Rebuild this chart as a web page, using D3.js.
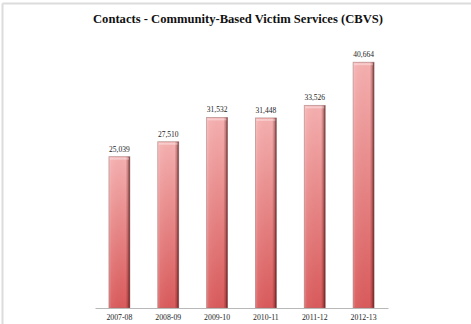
<!DOCTYPE html>
<html>
<head>
<meta charset="utf-8">
<script src="https://cdn.jsdelivr.net/npm/d3@7"></script>
<style>
  html, body { margin: 0; padding: 0; background: #fff; }
  svg { display: block; }
</style>
</head>
<body>
<svg id="chart" width="471" height="324"></svg>
<script>
// Fiscal years and the number of contacts recorded in each
const years = ["2007-08", "2008-09", "2009-10", "2010-11", "2011-12", "2012-13"];
const contacts = [25039, 27510, 31532, 31448, 33526, 40664];
const chartTitle = "Contacts - Community-Based Victim Services (CBVS)";

const svg = d3.select("#chart");
const W = 471, H = 324;
const margin = { left: 95, right: 83, top: 36, bottom: 16 };
const baseY = H - margin.bottom;

const data = years.map((y, i) => ({ year: y, value: contacts[i] }));

const x = d3.scaleBand()
  .domain(years)
  .range([margin.left, W - margin.right])
  .paddingInner(0.57)
  .paddingOuter(0.285);

const y = d3.scaleLinear()
  .domain([0, 45000])
  .range([baseY, margin.top]);

// Frame: light gray lines along the top and left edges
svg.append("line").attr("x1", 2.5).attr("x2", W).attr("y1", 3.5).attr("y2", 3.5)
  .attr("stroke", "#dcdcdc").attr("stroke-width", 2);
svg.append("line").attr("x1", 2.5).attr("x2", 2.5).attr("y1", 3.5).attr("y2", H)
  .attr("stroke", "#dcdcdc").attr("stroke-width", 2);

// Title
svg.append("text")
  .attr("x", 238).attr("y", 23)
  .attr("text-anchor", "middle")
  .attr("font-family", "'Liberation Serif', 'Times New Roman', serif")
  .attr("font-weight", "bold")
  .attr("font-size", 12.6)
  .attr("fill", "#111")
  .text(chartTitle);

// Gradients for the glossy bars
const defs = svg.append("defs");
const vGrad = defs.append("linearGradient").attr("id", "barFill")
  .attr("x1", 0).attr("y1", 0).attr("x2", 0).attr("y2", 1);
vGrad.append("stop").attr("offset", "0%").attr("stop-color", "#f6b0b0");
vGrad.append("stop").attr("offset", "100%").attr("stop-color", "#da5a5b");

const hGrad = defs.append("linearGradient").attr("id", "barShade")
  .attr("x1", 0).attr("y1", 0).attr("x2", 1).attr("y2", 0);
hGrad.append("stop").attr("offset", "0%").attr("stop-color", "#fff").attr("stop-opacity", 0.25);
hGrad.append("stop").attr("offset", "12%").attr("stop-color", "#fff").attr("stop-opacity", 0.05);
hGrad.append("stop").attr("offset", "80%").attr("stop-color", "#000").attr("stop-opacity", 0.0);
hGrad.append("stop").attr("offset", "90%").attr("stop-color", "#400").attr("stop-opacity", 0.25);
hGrad.append("stop").attr("offset", "100%").attr("stop-color", "#300").attr("stop-opacity", 0.75);

const bars = svg.append("g").selectAll("g").data(data).join("g");

bars.append("rect")
  .attr("x", d => x(d.year))
  .attr("y", d => y(d.value))
  .attr("width", x.bandwidth())
  .attr("height", d => baseY - y(d.value))
  .attr("fill", "url(#barFill)");

bars.append("rect")
  .attr("x", d => x(d.year))
  .attr("y", d => y(d.value))
  .attr("width", x.bandwidth())
  .attr("height", d => baseY - y(d.value))
  .attr("fill", "url(#barShade)")
  .attr("stroke", "#9a7070")
  .attr("stroke-opacity", 0.6)
  .attr("stroke-width", 0.8);

// Top highlight strip
bars.append("rect")
  .attr("x", d => x(d.year) + 1)
  .attr("y", d => y(d.value) + 1)
  .attr("width", x.bandwidth() - 2)
  .attr("height", 2)
  .attr("fill", "#fff")
  .attr("opacity", 0.35);

// Value labels
bars.append("text")
  .attr("x", d => x(d.year) + x.bandwidth() / 2)
  .attr("y", d => y(d.value) - 5)
  .attr("text-anchor", "middle")
  .attr("font-family", "'Liberation Serif', 'Times New Roman', serif")
  .attr("font-size", 7.5)
  .attr("fill", "#222")
  .text(d => d3.format(",")(d.value));

// Category axis
const xAxis = svg.append("g")
  .attr("transform", `translate(0,${baseY})`)
  .call(d3.axisBottom(x).tickSize(0).tickPadding(6));
xAxis.select(".domain").attr("stroke", "#b8b8b8").attr("stroke-width", 1);
xAxis.selectAll("text")
  .attr("font-family", "'Liberation Serif', 'Times New Roman', serif")
  .attr("font-size", 7.8)
  .attr("fill", "#222");
</script>
</body>
</html>
